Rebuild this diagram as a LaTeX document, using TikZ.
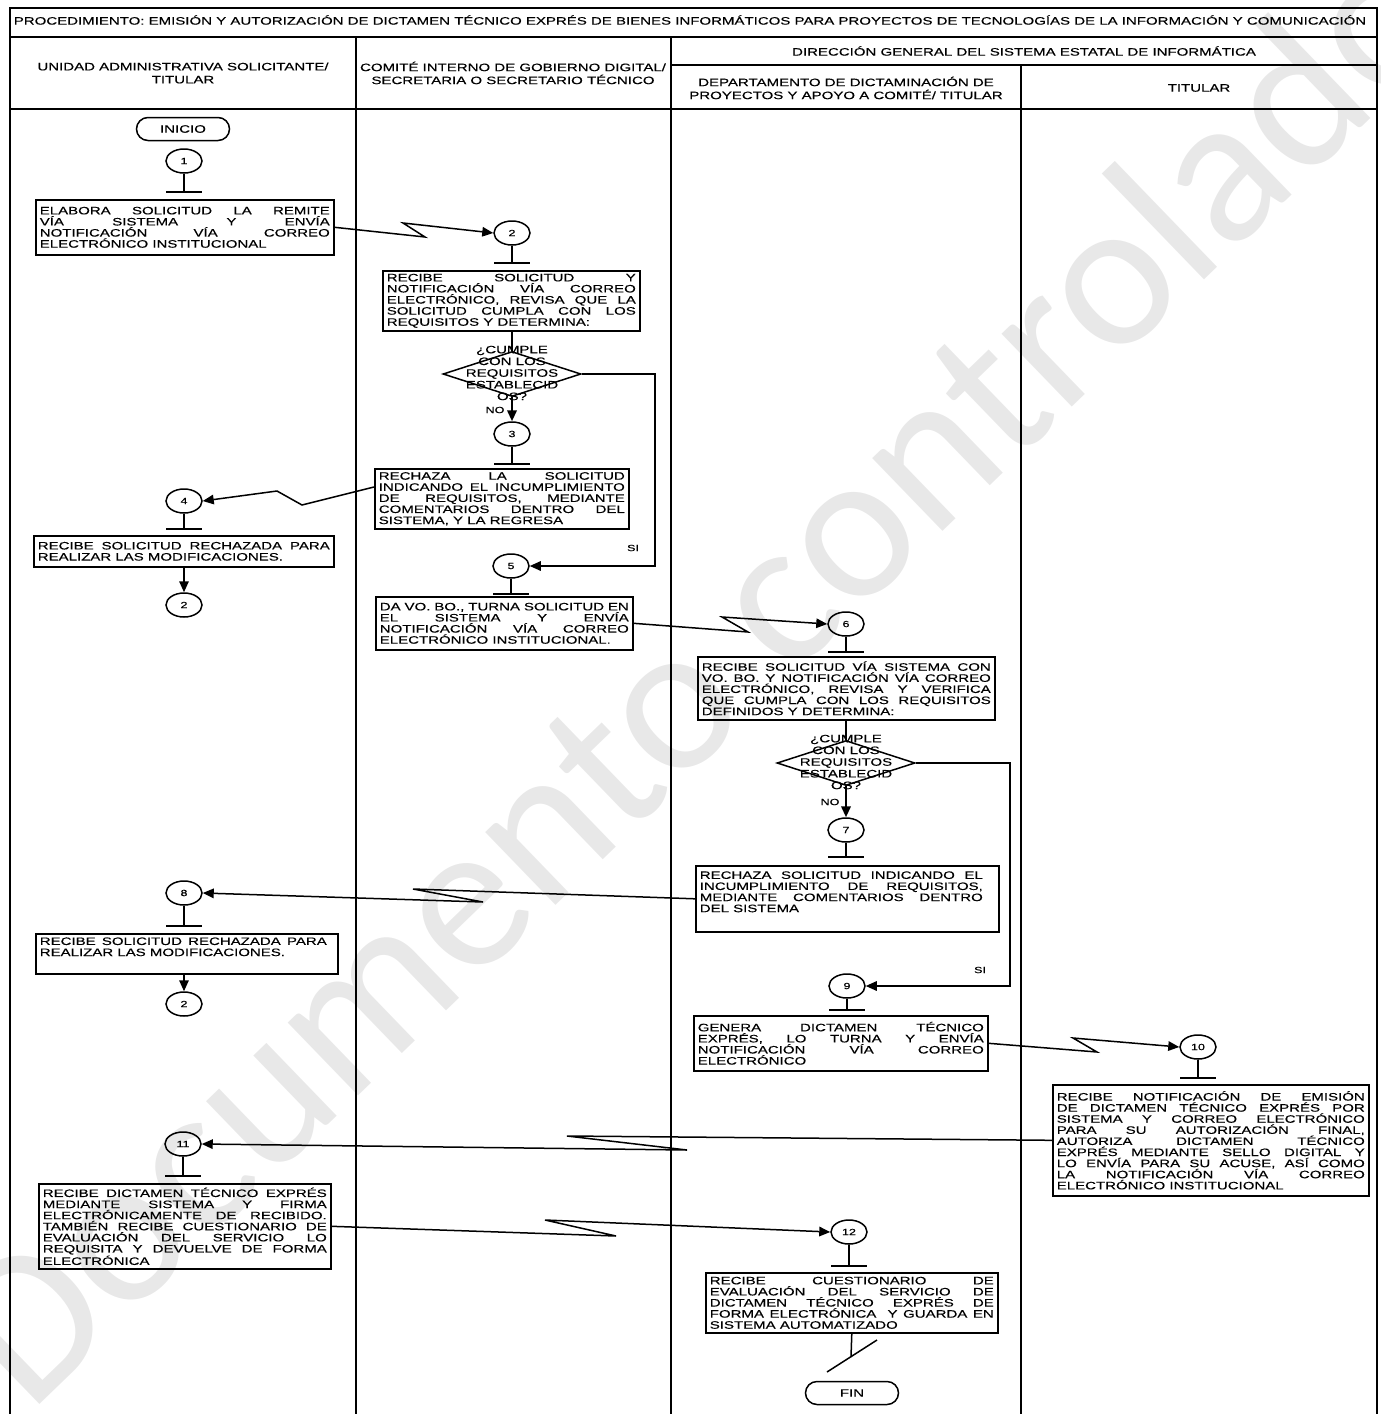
\documentclass[tikz,border=0pt]{standalone}
\usepackage{fontspec}
\setmainfont{Liberation Sans}
\newfontfamily\bxfont{Liberation Sans}[FakeStretch=1.39,FakeBold=0.3]
\newfontfamily\wmfont{Carlito}
\usetikzlibrary{shapes.geometric,arrows.meta}
\newcommand{\bx}{\bxfont\fontsize{10.8}{11.1}\selectfont}
\newcommand{\hd}{\bxfont\fontsize{10.8}{13}\selectfont}
\newcommand{\cn}{\bxfont\fontsize{9}{9.5}\selectfont}
\newcommand{\dm}{\bxfont\fontsize{10.8}{11.7}\selectfont}
\newcommand{\stembar}[3]{\coordinate (#1t) at (#2,#3);\draw[ln] (#1.south) -- (#1t);\draw[ln] ([xshift=-18pt]#1t) -- ([xshift=18pt]#1t);}
\begin{document}
\begin{tikzpicture}[x=1pt,y=-1pt,
 ln/.style={line width=1.5pt},
 lane/.style={line width=1.9pt},
 box/.style={draw, line width=1.6pt, anchor=north west, inner xsep=4pt, inner ysep=3pt, align=justify, font=\bx},
 conn/.style={draw, ellipse, line width=1.5pt, minimum width=36pt, minimum height=24pt, inner sep=0pt, font=\cn},
 term/.style={draw, rectangle, rounded corners=11.5pt, line width=1.5pt, minimum width=93pt, minimum height=23pt, inner sep=0pt, font=\bx},
 dec/.style={draw, diamond, line width=1.5pt, minimum width=138pt, minimum height=45pt, inner sep=0pt},
 arr/.style={ln, -{Triangle[length=11pt,width=9.5pt]}},
 lbl/.style={font=\cn, inner sep=0pt}]
\useasboundingbox (0,0) rectangle (1381,1414);
% watermark
\node[rotate=44, text=black!9, font=\wmfont\fontsize{212}{212}\selectfont, inner sep=0pt] (wm) at (695,670) {Documento controlado};
% frame
\draw[lane] (10,1414) -- (10,8) -- (1377,8) -- (1377,1414);
\draw[lane] (10,37) -- (1377,37);
\draw[lane] (671,65) -- (1377,65);
\draw[lane] (10,109) -- (1377,109);
\draw[lane] (356,37) -- (356,1414);
\draw[lane] (671,37) -- (671,1414);
\draw[lane] (1021,65) -- (1021,1414);
% headers
\node[font=\hd] (title) at (690,20) {PROCEDIMIENTO: EMISIÓN Y AUTORIZACIÓN DE DICTAMEN TÉCNICO EXPRÉS DE BIENES INFORMÁTICOS PARA PROYECTOS DE TECNOLOGÍAS DE LA INFORMACIÓN Y COMUNICACIÓN};
\node[font=\hd, align=center] (h1) at (183,73) {UNIDAD ADMINISTRATIVA SOLICITANTE/\\TITULAR};
\node[font=\hd, align=center] (h2) at (513,73) {COMITÉ INTERNO DE GOBIERNO DIGITAL/\\SECRETARIA O SECRETARIO TÉCNICO};
\node[font=\hd] (h3) at (1024,51) {DIRECCIÓN GENERAL DEL SISTEMA ESTATAL DE INFORMÁTICA};
\node[font=\hd, align=center] (h4) at (846,88) {DEPARTAMENTO DE DICTAMINACIÓN DE\\PROYECTOS Y APOYO A COMITÉ/ TITULAR};
\node[font=\hd] (h5) at (1199,88) {TITULAR};
% lane 1 top
\node[term] (ini) at (183,129) {INICIO};
\node[conn] (c1) at (184,161) {1};
\stembar{c1}{184}{192}
\node[box, text width=290pt, minimum height=55pt] (b1) at (35,199) {\rightskip=31pt\relax ELABORA SOLICITUD LA REMITE\linebreak VÍA SISTEMA Y ENVÍA\linebreak NOTIFICACIÓN VÍA CORREO\linebreak ELECTRÓNICO INSTITUCIONAL};
% lane 2
\node[conn] (c2) at (512,233) {2};
\stembar{c2}{512}{263}
\node[box, text width=249pt, minimum height=57pt] (b2) at (382,270) {RECIBE SOLICITUD Y\linebreak NOTIFICACIÓN VÍA CORREO\linebreak ELECTRÓNICO, REVISA QUE LA\linebreak SOLICITUD CUMPLA CON LOS\linebreak REQUISITOS Y DETERMINA:};
\node[dec] (d1) at (512,374) {};
\node[font=\dm, align=center, inner sep=0pt] (d1t) at (512,373) {¿CUMPLE\\CON LOS\\REQUISITOS\\ESTABLECID\\OS?};
\node[lbl] (no1) at (495,410) {NO};
\node[conn] (c3) at (512,434) {3};
\stembar{c3}{512}{464}
\node[box, text width=246pt, minimum height=60pt] (b3) at (374,468) {RECHAZA LA SOLICITUD\linebreak INDICANDO EL INCUMPLIMIENTO\linebreak DE REQUISITOS, MEDIANTE\linebreak COMENTARIOS DENTRO DEL\linebreak SISTEMA, Y LA REGRESA};
\coordinate (b3w) at (374,487);
\node[lbl] (si1) at (633,548) {SI};
\coordinate (k1) at (655,566);
\node[conn] (c5) at (511,566) {5};
\stembar{c5}{511}{594}
\node[box, text width=249pt, minimum height=53pt] (b5) at (375,596) {DA VO. BO., TURNA SOLICITUD EN\linebreak EL SISTEMA Y ENVÍA\linebreak NOTIFICACIÓN VÍA CORREO\linebreak ELECTRÓNICO INSTITUCIONAL.};
% lane 1 middle
\node[conn] (c4) at (184,501) {4};
\stembar{c4}{184}{529}
\node[box, text width=292pt, minimum height=31pt] (b4) at (33,535) {\rightskip=5pt\relax RECIBE SOLICITUD RECHAZADA PARA\linebreak REALIZAR LAS MODIFICACIONES.};
\node[conn] (c2b) at (184,605) {2};
% lane 3
\node[conn] (c6) at (846,624) {6};
\stembar{c6}{846}{652}
\node[box, text width=289pt, minimum height=63pt] (b6) at (697,656) {\rightskip=5pt\relax RECIBE SOLICITUD VÍA SISTEMA CON\linebreak VO. BO. Y NOTIFICACIÓN VÍA CORREO\linebreak ELECTRÓNICO, REVISA Y VERIFICA\linebreak QUE CUMPLA CON LOS REQUISITOS\linebreak DEFINIDOS Y DETERMINA:};
\node[dec] (d2) at (846,763) {};
\node[font=\dm, align=center, inner sep=0pt] (d2t) at (846,762) {¿CUMPLE\\CON LOS\\REQUISITOS\\ESTABLECID\\OS?};
\node[lbl] (no2) at (830,802) {NO};
\node[conn] (c7) at (846,830) {7};
\stembar{c7}{846}{857}
\node[box, text width=295pt, minimum height=66pt] (b7) at (695,865) {\rightskip=12pt\relax RECHAZA SOLICITUD INDICANDO EL\linebreak INCUMPLIMIENTO DE REQUISITOS,\linebreak MEDIANTE COMENTARIOS DENTRO\linebreak DEL SISTEMA\par\kern14pt};
\node[lbl] (si2) at (980,970) {SI};
\coordinate (k2) at (1010,986);
\node[conn] (c9) at (847,986) {9};
\stembar{c9}{847}{1010}
\node[box, text width=286pt, minimum height=55pt] (b9) at (693,1015) {\rightskip=5pt\relax GENERA DICTAMEN TÉCNICO\linebreak EXPRÉS, LO TURNA Y ENVÍA\linebreak NOTIFICACIÓN VÍA CORREO\linebreak ELECTRÓNICO};
% lane 1 lower
\node[conn] (c8) at (184,893) {8};
\stembar{c8}{184}{926}
\node[box, text width=294pt, minimum height=40pt] (b8) at (35,933) {\rightskip=7pt\relax RECIBE SOLICITUD RECHAZADA PARA\linebreak REALIZAR LAS MODIFICACIONES.\par\kern14pt};
\node[conn] (c2c) at (184,1004) {2};
% lane 4
\node[conn] (c10) at (1198,1047) {10};
\stembar{c10}{1198}{1078}
\node[box, text width=308pt, minimum height=111pt] (b10) at (1052,1084) {\rightskip=1pt\relax RECIBE NOTIFICACIÓN DE EMISIÓN\linebreak DE DICTAMEN TÉCNICO EXPRÉS POR\linebreak SISTEMA Y CORREO ELECTRÓNICO\linebreak PARA SU AUTORIZACIÓN FINAL,\linebreak AUTORIZA DICTAMEN TÉCNICO\linebreak EXPRÉS MEDIANTE SELLO DIGITAL Y\linebreak LO ENVÍA PARA SU ACUSE, ASÍ COMO\linebreak LA NOTIFICACIÓN VÍA CORREO\linebreak ELECTRÓNICO INSTITUCIONAL};
% lane 1 bottom
\node[conn] (c11) at (183,1144) {11};
\stembar{c11}{183}{1176}
\node[box, text width=284pt, minimum height=85pt] (b11) at (38,1183) {\rightskip=5pt\relax RECIBE DICTAMEN TÉCNICO EXPRÉS\linebreak MEDIANTE SISTEMA Y FIRMA\linebreak ELECTRÓNICAMENTE DE RECIBIDO.\linebreak TAMBIÉN RECIBE CUESTIONARIO DE\linebreak EVALUACIÓN DEL SERVICIO LO\linebreak REQUISITA Y DEVUELVE DE FORMA\linebreak ELECTRÓNICA};
% lane 3 bottom
\node[conn] (c12) at (849,1232) {12};
\stembar{c12}{849}{1266}
\node[box, text width=284pt, minimum height=60pt] (b12) at (705,1272) {\rightskip=1pt\relax RECIBE CUESTIONARIO DE\linebreak EVALUACIÓN DEL SERVICIO DE\linebreak DICTAMEN TÉCNICO EXPRÉS DE\linebreak FORMA ELECTRÓNICA \ Y GUARDA EN\linebreak SISTEMA AUTOMATIZADO};
\coordinate (s0) at (851,1357);
\coordinate (s1) at (877,1340);
\coordinate (s2) at (827,1372);
\draw[ln] (b12.south) -- (s0);
\draw[ln] (s1) -- (s2);
\node[term] (fin) at (852,1393) {FIN};
% vertical connectors
\draw[ln] (d1.north |- b2.south) -- (d1.north);
\draw[arr, line width=2.2pt] (d1.south) -- (c3.north);
\draw[arr] (d1.east) -| (k1) -- (c5.east);
\draw[arr] (c2b.north |- b4.south) -- (c2b.north);
\draw[ln] (d2.north |- b6.south) -- (d2.north);
\draw[arr, line width=2.2pt] (d2.south) -- (c7.north);
\draw[arr] (d2.east) -| (k2) -- (c9.east);
\draw[arr] (c2c.north |- b8.south) -- (c2c.north);
% lightning connectors
\coordinate (z1a) at (425,237); \coordinate (z1b) at (403,223);
\draw[arr] (b1.east) -- (z1a) -- (z1b) -- (c2.west);
\coordinate (z2a) at (302,505); \coordinate (z2b) at (277,491);
\draw[arr] (b3w) -- (z2a) -- (z2b) -- (c4.east);
\coordinate (z3a) at (748,632); \coordinate (z3b) at (722,617);
\draw[arr] (b5.east) -- (z3a) -- (z3b) -- (c6.west);
\coordinate (z4a) at (413,889); \coordinate (z4b) at (483,902);
\draw[arr] (b7.west) -- (z4a) -- (z4b) -- (c8.east);
\coordinate (z5a) at (1097,1052); \coordinate (z5b) at (1073,1038);
\draw[arr] (b9.east) -- (z5a) -- (z5b) -- (c10.west);
\coordinate (z6a) at (567,1136); \coordinate (z6b) at (687,1150);
\draw[arr] (b10.west) -- (z6a) -- (z6b) -- (c11.east);
\coordinate (z7a) at (616,1236); \coordinate (z7b) at (545,1220);
\draw[arr] (b11.east) -- (z7a) -- (z7b) -- (c12.west);
\end{tikzpicture}
\end{document}
